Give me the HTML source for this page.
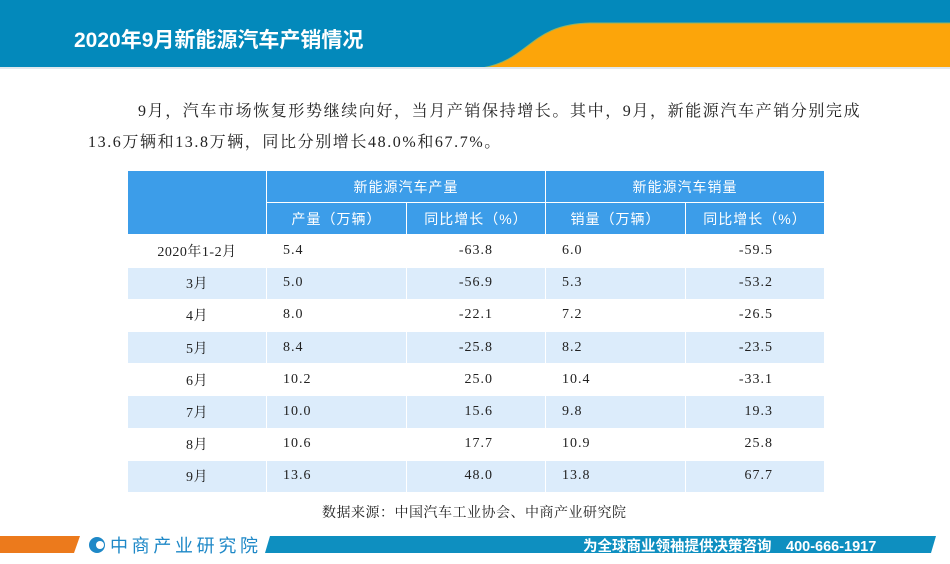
<!DOCTYPE html>
<html><head><meta charset="utf-8"><style>
*{margin:0;padding:0;box-sizing:border-box}
body{width:950px;height:564px;background:#fff;position:relative;overflow:hidden;font-family:"Liberation Serif","Noto Serif CJK SC",serif}
.hdr{position:absolute;left:0;top:0;width:950px;height:67px;background:#0389bb}
.title{position:absolute;left:74px;top:24px;color:#fff;font:bold 21px "Liberation Sans","Noto Sans CJK SC",sans-serif;letter-spacing:0px}
.p{position:absolute;font-size:16px;color:#222;white-space:nowrap;letter-spacing:1.6px}
table{position:absolute;left:127px;top:170px;border-collapse:collapse;font-size:14px;color:#222}
td{height:32.2px;border:1px solid #fff;padding:0;letter-spacing:1px}
.h td{background:#3c9de9;color:#fff;font-family:"Liberation Sans","Noto Sans CJK SC",sans-serif;font-size:14px;text-align:center;letter-spacing:1px}
.alt td{background:#dcecfb}
.c0{width:139px;text-align:center;letter-spacing:0.5px!important}
.c1,.c3{width:140px;padding-left:16px!important}
.c2,.c4{width:139px;text-align:right;padding-right:52px!important}
.c4{padding-right:51px!important}
.src{position:absolute;left:322px;top:502px;font-size:14px;color:#222;letter-spacing:0.5px}
.ft{position:absolute;color:#fff;font:bold 14px "Liberation Sans","Noto Sans CJK SC",sans-serif}
</style></head><body>
<div class="hdr"></div>
<svg style="position:absolute;left:0;top:0" width="950" height="70">
<path d="M482 68 C530 60 530 24 590 23 L950 23 L950 67 Z" fill="#fca50a"/>
<path d="M482 68 C530 60 530 24 590 23 L950 23" fill="none" stroke="#8ab46c" stroke-width="1"/>
<rect x="0" y="67" width="950" height="2" fill="#e0e8ee"/>
</svg>
<div class="title">2020年9月新能源汽车产销情况</div>
<div class="p" style="left:138px;top:98px">9月，汽车市场恢复形势继续向好，当月产销保持增长。其中，9月，新能源汽车产销分别完成</div>
<div class="p" style="left:88px;top:129px">13.6万辆和13.8万辆，同比分别增长48.0%和67.7%。</div>
<table>
<tr class="h"><td class="c0" rowspan="2"></td><td colspan="2">新能源汽车产量</td><td colspan="2">新能源汽车销量</td></tr>
<tr class="h"><td>产量（万辆）</td><td>同比增长（%）</td><td>销量（万辆）</td><td>同比增长（%）</td></tr>
<tr><td class="c0">2020年1-2月</td><td class="c1">5.4</td><td class="c2">-63.8</td><td class="c3">6.0</td><td class="c4">-59.5</td></tr>
<tr class="alt"><td class="c0">3月</td><td class="c1">5.0</td><td class="c2">-56.9</td><td class="c3">5.3</td><td class="c4">-53.2</td></tr>
<tr><td class="c0">4月</td><td class="c1">8.0</td><td class="c2">-22.1</td><td class="c3">7.2</td><td class="c4">-26.5</td></tr>
<tr class="alt"><td class="c0">5月</td><td class="c1">8.4</td><td class="c2">-25.8</td><td class="c3">8.2</td><td class="c4">-23.5</td></tr>
<tr><td class="c0">6月</td><td class="c1">10.2</td><td class="c2">25.0</td><td class="c3">10.4</td><td class="c4">-33.1</td></tr>
<tr class="alt"><td class="c0">7月</td><td class="c1">10.0</td><td class="c2">15.6</td><td class="c3">9.8</td><td class="c4">19.3</td></tr>
<tr><td class="c0">8月</td><td class="c1">10.6</td><td class="c2">17.7</td><td class="c3">10.9</td><td class="c4">25.8</td></tr>
<tr class="alt"><td class="c0">9月</td><td class="c1">13.6</td><td class="c2">48.0</td><td class="c3">13.8</td><td class="c4">67.7</td></tr>
</table>
<div class="src">数据来源：中国汽车工业协会、中商产业研究院</div>
<svg style="position:absolute;left:0;top:530" width="950" height="34">
<polygon points="0,6 80,6 74,23 0,23" fill="#ec7a1c"/>
<polygon points="270,6 936,6 931,23 265,23" fill="#0e8fc0"/>
<circle cx="97" cy="15" r="8" fill="#1e88c7"/>
<circle cx="100" cy="15" r="4" fill="#fff"/>
<text x="110" y="22" font-family="Liberation Sans,Noto Sans CJK SC,sans-serif" font-size="18" fill="#1e88c7" textLength="148">中商产业研究院</text>
</svg>
<div class="ft" style="left:583px;top:535px;font-size:14.5px">为全球商业领袖提供决策咨询　400-666-1917</div>
</body></html>
